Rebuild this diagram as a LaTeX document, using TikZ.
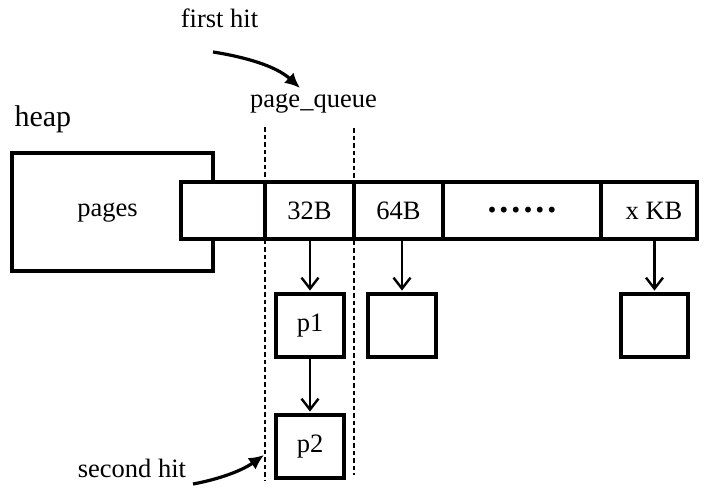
\documentclass[tikz,border=0pt]{standalone}
\usepackage{fontspec}
\setmainfont{Liberation Serif}
\usetikzlibrary{arrows.meta}
\begin{document}
\begin{tikzpicture}[x=1pt,y=-1pt,
  txt/.style={font=\fontsize{26.5}{31}\selectfont},
  box/.style={draw=black,line width=3.4pt,fill=white,inner sep=0pt,txt},
  arr/.style={line width=2.4pt,-{Straight Barb[length=11pt,width=17pt,line width=2.4pt]},shorten >=1.7pt},
  curv/.style={line width=3.2pt,-{Latex[length=15pt,width=14pt]}},
  guide/.style={line width=1.5pt,dash pattern=on 4.5pt off 3pt}]
\useasboundingbox (0,0) rectangle (707,496);
% heap pages box
\node[box,minimum width=201pt,minimum height=118pt] (pages) at (112.5,212) {};
\node[txt,anchor=base] (pagestxt) at (107.5,216) {pages};
\node[txt,font=\fontsize{30}{34}\selectfont,anchor=base west] (heap) at (11,126) {heap};
% row of cells
\node[box,minimum width=84pt,minimum height=57pt] (c0) at (223,210.5) {};
\node[box,minimum width=89pt,minimum height=57pt] (c1) at (309.5,210.5) {32B};
\node[box,minimum width=89pt,minimum height=57pt] (c2) at (398.5,210.5) {64B};
\node[box,minimum width=158pt,minimum height=57pt,font=\fontsize{36}{40}\selectfont] (c3) at (522,210.5) {\bfseries .\hspace{3pt}.\hspace{3pt}.\hspace{3pt}.\hspace{3pt}.\hspace{3pt}.};
\node[box,minimum width=96pt,minimum height=57pt] (c4) at (649,210.5) {\hspace{10pt}x KB};
% boxes below
\node[box,minimum width=68pt,minimum height=63pt] (p1) at (310,325.5) {p1};
\node[box,minimum width=68pt,minimum height=63pt] (p2) at (310,446.5) {p2};
\node[box,minimum width=68pt,minimum height=63pt] (b64) at (402,325.5) {};
\node[box,minimum width=67pt,minimum height=63pt] (bx) at (654.5,325.5) {};
% straight arrows
\draw[arr] (p1.north |- c1.south) -- (p1.north);
\draw[arr] (p1.south) -- (p2.north);
\draw[arr] (b64.north |- c2.south) -- (b64.north);
\draw[arr] (bx.north |- c4.south) -- (bx.north);
% dashed guides
\coordinate (g1t) at (265,127);
\coordinate (g1b) at (265,480);
\coordinate (g2t) at (354,128);
\coordinate (g2b) at (354,475);
\draw[guide] (g1t) -- (g1b);
\draw[guide] (g2t) -- (g2b);
% labels
\node[txt,anchor=base] (first) at (219.5,27) {first hit};
\node[txt,anchor=base] (queue) at (313.5,107) {page\_queue};
\node[txt,anchor=base] (second) at (132,477) {second hit};
% curved arrows
\coordinate (fh1) at (213,52);
\coordinate (fh2) at (300,88);
\draw[curv] (fh1) .. controls (245,57) and (276,66) .. (fh2);
\coordinate (sh1) at (193,484);
\coordinate (sh2) at (264,455);
\draw[curv] (sh1) .. controls (215,480) and (240,472) .. (sh2);
\end{tikzpicture}
\end{document}
